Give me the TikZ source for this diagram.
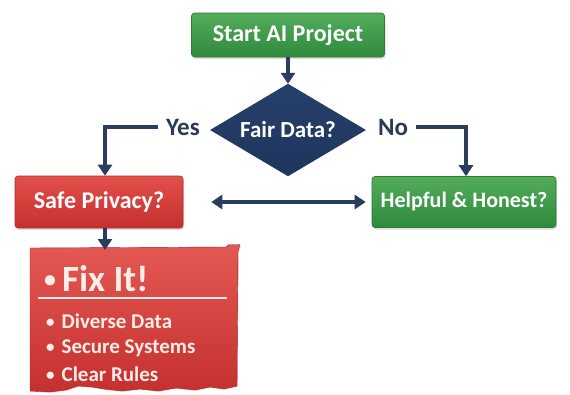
\documentclass[tikz,border=0pt]{standalone}
\usepackage{fontspec}
\setmainfont{Carlito}
\usetikzlibrary{shapes.geometric,arrows.meta,shadows}
\definecolor{greentop}{HTML}{52AC5A}
\definecolor{greenbot}{HTML}{2F8A3D}
\definecolor{redtop}{HTML}{E2504A}
\definecolor{redbot}{HTML}{C5302F}
\definecolor{navy}{HTML}{26406C}
\definecolor{navydark}{HTML}{1E355D}
\definecolor{arrowc}{HTML}{2A3D5E}
\definecolor{labelc}{HTML}{2B3A55}
\definecolor{paper}{HTML}{FCEDE8}
\tikzset{
  box/.style={rectangle, rounded corners=3pt, text=white, font=\fontsize{24}{26}\selectfont\bfseries,
    drop shadow={opacity=0.25, shadow xshift=1pt, shadow yshift=-2pt}},
  greenbox/.style={box, top color=greentop, bottom color=greenbot, draw=greenbot!90!black, line width=0.6pt},
  redbox/.style={box, top color=redtop, bottom color=redbot, draw=redbot!90!black, line width=0.6pt},
  conn/.style={draw=arrowc, line width=3.4pt},
  arr/.style={conn, -{Triangle[width=14pt,length=11pt]}},
  darr/.style={conn, {Triangle[width=14pt,length=11pt]}-{Triangle[width=14pt,length=11pt]}},
  branch/.style={text=labelc, font=\fontsize{25}{27}\selectfont\bfseries, inner sep=2pt},
  fixtext/.style={text=paper, font=\fontsize{21}{23}\selectfont\bfseries, anchor=west, inner sep=0pt}
}
\begin{document}
\begin{tikzpicture}[x=1pt,y=-1pt]
\useasboundingbox (0,0) rectangle (570,394);
\fill[white] (0,0) rectangle (570,394);

% top of the flow
\node[greenbox, minimum width=193pt, minimum height=44pt] (start) at (288,35) {Start AI Project};

% decision diamond
\node[diamond, minimum width=155pt, minimum height=92pt, inner sep=0pt,
      top color=navy, bottom color=navydark, draw=navydark] (fair) at (288,130) {};
\node[text=white, font=\fontsize{23}{25}\selectfont\bfseries] (fairtext) at (fair) {Fair Data?};

% branch labels
\node[branch] (yes) at (183,127) {Yes};
\node[branch] (no) at (393,127) {No};

% second level boxes
\node[redbox, minimum width=168pt, minimum height=52pt] (safe) at (99,202) {Safe Privacy?};
\node[greenbox, minimum width=184pt, minimum height=51pt, font=\fontsize{22}{24}\selectfont\bfseries] (helpful) at (464,202) {Helpful \& Honest?};

% torn "Fix It" sheet
\coordinate (fixtop) at (105,250);
\path[top color=redtop!95!white, bottom color=redbot, draw=redbot!80!black, line width=0.4pt,
      drop shadow={opacity=0.2, shadow xshift=1pt, shadow yshift=-1pt}]
  (30,248) -- (226,247) -- (229,244.5) -- (240,244.5) -- (238,252) -- (237,386)
  -- (224,389) -- (210,387) -- (195,390) -- (176,388) -- (158,391) -- (140,389)
  -- (122,391) -- (104,389) -- (92,387) -- (78,386) -- (66,390) -- (50,392) -- (30,391) -- cycle;
\draw[paper, line width=1.6pt] (38,298) -- (227,298);
\node[fixtext] (fixtitle) at (44,279) {\raisebox{4pt}{\fontsize{24}{24}\selectfont •}\hspace{6pt}\fontsize{37}{39}\selectfont Fix It!};
\node[fixtext] (b1) at (46,321) {\raisebox{1pt}{\fontsize{17}{17}\selectfont •}\hspace{7pt}Diverse Data};
\node[fixtext] (b2) at (46,348) {\raisebox{1pt}{\fontsize{17}{17}\selectfont •}\hspace{7pt}Secure Systems};
\node[fixtext] (b3) at (46,374) {\raisebox{1pt}{\fontsize{17}{17}\selectfont •}\hspace{7pt}Clear Rules};

% connectors
\draw[arr] (start.south) -- (fair.north);
\draw[arr] ([xshift=-6pt]yes.west) -| ([xshift=6pt]safe.north);
\draw[arr] ([xshift=6pt]no.east) -| ([xshift=2pt]helpful.north);
\draw[darr, shorten <=28pt, shorten >=6pt] (safe.east) -- (helpful.west);
\draw[arr] ([xshift=6pt]safe.south) -- (fixtop);
\end{tikzpicture}
\end{document}
